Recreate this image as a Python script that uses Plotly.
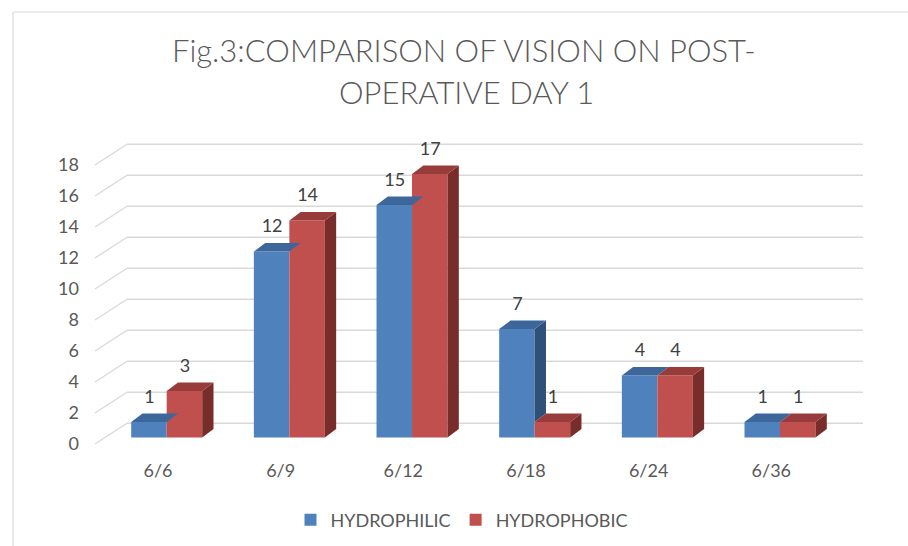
import plotly.graph_objects as go

# ---------------- data ----------------
categories = ["6/6", "6/9", "6/12", "6/18", "6/24", "6/36"]
hydrophilic = [1, 12, 15, 7, 4, 1]
hydrophobic = [3, 14, 17, 1, 4, 1]
series_names = ["HYDROPHILIC", "HYDROPHOBIC"]
y_tick_values = [0, 2, 4, 6, 8, 10, 12, 14, 16, 18]
title_lines = ["Fig.3:COMPARISON OF VISION ON POST-", "OPERATIVE DAY 1"]

# ---------------- geometry / style ----------------
W, H = 908, 546
L, R, T, B = 80, 30, 130, 94
PW, PH = W - L - R, H - T - B
X0, XS = 166.7, 122.66      # pixel of category 0 centre, pixels per category
Y0, YS = 437.5, 15.5        # pixel of value 0 (bar front), pixels per unit


def ux(px):
    return (px - X0) / XS


def vy(py):
    return (Y0 - py) / YS


def xp(px):
    return (px - L) / PW


def yp(py):
    return (H - B - py) / PH


BW = 35.5 / XS          # bar width (data units)
DX = 11.3 / XS          # depth offset x
DY = 8.4 / YS           # depth offset y
BACK_DY = 14.2 / YS     # back wall offset
FRONT_DY = -6.5 / YS    # floor front offset
BACK_X0, BACK_X1 = ux(127), ux(863)
FRONT_X = ux(95)

FONT = "Lato, 'Open Sans', sans-serif"
TXT = "#595959"
GRID = "#d9d9d9"
BLUE = ("#4f81bd", "#3d679a", "#2f5078")   # front, top, side
RED = ("#c0504d", "#973c3a", "#792d2b")

idx = list(range(len(categories)))

fig = go.Figure()

# fronts
fig.add_trace(go.Bar(x=idx, y=hydrophilic, width=BW, offset=-BW, name=series_names[0],
                     marker=dict(color=BLUE[0], line=dict(width=0)), hoverinfo="y"))
fig.add_trace(go.Bar(x=idx, y=hydrophobic, width=BW, offset=0, name=series_names[1],
                     marker=dict(color=RED[0], line=dict(width=0)), hoverinfo="y"))


def poly_trace(polys, color):
    xs, ys = [], []
    for p in polys:
        for (a, b) in p:
            xs.append(a)
            ys.append(b)
        xs.append(p[0][0])
        ys.append(p[0][1])
        xs.append(None)
        ys.append(None)
    return go.Scatter(x=xs, y=ys, mode="lines", fill="toself", fillcolor=color,
                      line=dict(width=0, color=color), showlegend=False, hoverinfo="skip")


# blue side (only the part visible above the red bar) and blue top
blue_side, blue_top = [], []
for i, (b, r) in enumerate(zip(hydrophilic, hydrophobic)):
    if b > r:
        blue_side.append([(i, r), (i, b), (i + DX, b + DY), (i + DX, r + DY)])
    blue_top.append([(i - BW, b), (i, b), (i + DX, b + DY), (i - BW + DX, b + DY)])
fig.add_trace(poly_trace(blue_side, BLUE[2]))
fig.add_trace(poly_trace(blue_top, BLUE[1]))

# red side and top
red_side, red_top = [], []
for i, r in enumerate(hydrophobic):
    red_side.append([(i + BW, 0), (i + BW, r), (i + BW + DX, r + DY), (i + BW + DX, DY)])
    red_top.append([(i, r), (i + BW, r), (i + BW + DX, r + DY), (i + DX, r + DY)])
fig.add_trace(poly_trace(red_side, RED[2]))
fig.add_trace(poly_trace(red_top, RED[1]))

# data labels
LBL_DY = 24.0 / YS
fig.add_trace(go.Scatter(x=[i - BW / 2 + 0.004 for i in idx], y=[v + LBL_DY for v in hydrophilic],
                         mode="text", text=[str(v) for v in hydrophilic],
                         textfont=dict(family=FONT, size=18, color="#404040"),
                         showlegend=False, hoverinfo="skip", cliponaxis=False))
fig.add_trace(go.Scatter(x=[i + BW / 2 + 0.004 for i in idx], y=[v + LBL_DY for v in hydrophobic],
                         mode="text", text=[str(v) for v in hydrophobic],
                         textfont=dict(family=FONT, size=18, color="#404040"),
                         showlegend=False, hoverinfo="skip", cliponaxis=False))

# gridlines: back wall + floor-side stubs
shapes = []
for t in y_tick_values:
    shapes.append(dict(type="line", xref="x", yref="y", x0=BACK_X0, x1=BACK_X1,
                       y0=t + BACK_DY, y1=t + BACK_DY, line=dict(color=GRID, width=1.6), layer="below"))
    shapes.append(dict(type="line", xref="x", yref="y", x0=FRONT_X, x1=BACK_X0,
                       y0=t + FRONT_DY, y1=t + BACK_DY, line=dict(color=GRID, width=1.3), layer="below"))
# outer chart border (left and top edges)
shapes.append(dict(type="line", xref="paper", yref="paper", x0=xp(13), x1=xp(13), y0=yp(12), y1=yp(560),
                   line=dict(color="#d9d9d9", width=1.2)))
shapes.append(dict(type="line", xref="paper", yref="paper", x0=xp(13), x1=xp(930), y0=yp(12), y1=yp(12),
                   line=dict(color="#d9d9d9", width=1.2)))

annotations = [
    dict(text=title_lines[0], xref="paper", yref="paper", x=xp(464), y=yp(50), xanchor="center",
         yanchor="middle", showarrow=False, font=dict(family=FONT, size=31, color=TXT, weight=300)),
    dict(text=title_lines[1], xref="paper", yref="paper", x=xp(466), y=yp(92), xanchor="center",
         yanchor="middle", showarrow=False, font=dict(family=FONT, size=31, color=TXT, weight=300)),
]

fig.update_layout(
    template="none",
    width=W, height=H,
    margin=dict(l=L, r=R, t=T, b=B, pad=0, autoexpand=False),
    paper_bgcolor="white", plot_bgcolor="white",
    barmode="overlay",
    shapes=shapes,
    annotations=annotations,
    font=dict(family=FONT, color=TXT),
    legend=dict(orientation="h", x=xp(462), xanchor="center", y=yp(520), yanchor="middle",
                font=dict(family=FONT, size=18, color=TXT), traceorder="normal",
                itemwidth=30, bgcolor="rgba(0,0,0,0)"),
    xaxis=dict(range=[ux(L), ux(W - R)], tickvals=[i + ux(158) for i in idx], ticktext=categories,
               showgrid=False, zeroline=False, showline=False, ticks="", automargin=False,
               tickfont=dict(family=FONT, size=18, color=TXT), ticklabelstandoff=6, fixedrange=True),
    yaxis=dict(range=[vy(H - B), vy(T)], tickvals=[t + vy(444) for t in y_tick_values],
               ticktext=[str(t) for t in y_tick_values], showgrid=False, zeroline=False, automargin=False,
               showline=False, ticks="", tickfont=dict(family=FONT, size=18, color=TXT), fixedrange=True),
)

fig.write_html("out.html", config={"displayModeBar": False},
               post_script="document.body.style.margin='0px';document.body.style.overflow='hidden';")
